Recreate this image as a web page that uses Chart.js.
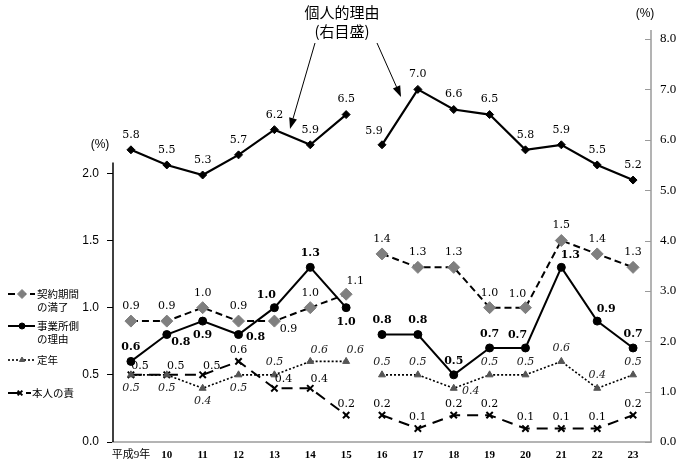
<!DOCTYPE html>
<html><head><meta charset="utf-8">
<script src="https://cdn.jsdelivr.net/npm/chart.js@4/dist/chart.umd.min.js"></script>
<style>html,body{margin:0;padding:0;background:#fff;}#wrap{width:680px;height:460px;position:relative;}</style>
</head><body><div id="wrap"><canvas id="c" width="680" height="460"></canvas></div>
<script>
// ---- data ----
const categories = ['平成9年','10','11','12','13','14','15','16','17','18','19','20','21','22','23'];
const personalReason = [5.8,5.5,5.3,5.7,6.2,5.9,6.5,5.9,7.0,6.6,6.5,5.8,5.9,5.5,5.2];
const contractExpiry = [0.9,0.9,1.0,0.9,0.9,1.0,1.1,1.4,1.3,1.3,1.0,1.0,1.5,1.4,1.3];
const employerReason = [0.6,0.8,0.9,0.8,1.0,1.3,1.0,0.8,0.8,0.5,0.7,0.7,1.3,0.9,0.7];
const retirementAge  = [0.5,0.5,0.4,0.5,0.5,0.6,0.6,0.5,0.5,0.4,0.5,0.5,0.6,0.4,0.5];
const ownFault       = [0.5,0.5,0.5,0.6,0.4,0.4,0.2,0.2,0.1,0.2,0.2,0.1,0.1,0.1,0.2];
const leftTicks  = [0,0.5,1.0,1.5,2.0];
const rightTicks = [0,1,2,3,4,5,6,7,8];
const seriesNames = ['個人的理由','契約期間の満了','事業所側の理由','定年','本人の責'];
const breakAfter = categories.indexOf('15');

// ---- label placement codes (style, not data) ----
const personalPos = ['a','a','a','a','a','a','a','al','a','a','a','a','a','a','a'];
const contractPos = ['a','a','a','a','br','a','ar','a','a','a','a','al','a','a','a'];
const employerPos = ['a','br','b','r','al','a','b','a','a','a','a','al','ar','ar','a'];
const retirePos   = ['b','b','b','b','a','ar','ar','a','a','r','a','a','a','a','a'];
const faultPos    = ['ar','ar','ar','a','ar','ar','a','a','a','a','a','a','a','a','a'];

const SERIF = '"DejaVu Serif", serif';
const labelCfg = [
  {pos: personalPos, dist: 15, font: '11px ' + SERIF, color: '#000'},
  {pos: contractPos, dist: 15, font: '11px ' + SERIF, color: '#000'},
  {pos: employerPos, dist: 14, font: 'bold 11px ' + SERIF, color: '#000'},
  {pos: retirePos,   dist: 13, font: 'italic 11px ' + SERIF, color: '#222'},
  {pos: faultPos,    dist: 11, font: '11px ' + SERIF, color: '#000'}
];
function offsetFor(code, d) {
  switch (code) {
    case 'b':  return [0, d];
    case 'ar': return [9, -d + 2];
    case 'al': return [-8, -d + 1];
    case 'br': return [14, 8];
    case 'r':  return [17, 3];
    default:   return [0, -d];
  }
}

const gapSeg = { borderColor: ctx => ctx.p0DataIndex === breakAfter ? 'rgba(0,0,0,0)' : undefined };

function drawMarker(ctx, style, x, y, r, fill, stroke, lw) {
  ctx.save();
  ctx.fillStyle = fill; ctx.strokeStyle = stroke; ctx.lineWidth = lw || 1; ctx.setLineDash([]);
  ctx.beginPath();
  if (style === 'rectRot') {
    ctx.moveTo(x, y - r); ctx.lineTo(x + r, y); ctx.lineTo(x, y + r); ctx.lineTo(x - r, y); ctx.closePath();
    ctx.fill(); ctx.stroke();
  } else if (style === 'circle') {
    ctx.arc(x, y, r, 0, Math.PI * 2); ctx.fill(); ctx.stroke();
  } else if (style === 'triangle') {
    ctx.moveTo(x, y - r); ctx.lineTo(x + r * 0.87, y + r * 0.5); ctx.lineTo(x - r * 0.87, y + r * 0.5); ctx.closePath();
    ctx.fill(); ctx.stroke();
  } else if (style === 'crossRot') {
    const k = r * 0.7;
    ctx.moveTo(x - k, y - k); ctx.lineTo(x + k, y + k); ctx.moveTo(x + k, y - k); ctx.lineTo(x - k, y + k);
    ctx.stroke();
  }
  ctx.restore();
}

const decor = {
  id: 'decor',
  afterDraw(chart) {
    const ctx = chart.ctx, ca = chart.chartArea;
    const y = chart.scales.y, y1 = chart.scales.y1;
    ctx.save();
    // left axis line (only up to a bit above 2.0)
    ctx.strokeStyle = '#000'; ctx.lineWidth = 1.5;
    ctx.beginPath(); ctx.moveTo(ca.left, y.getPixelForValue(0)); ctx.lineTo(ca.left, y.getPixelForValue(2.08)); ctx.stroke();
    // right axis line + inward ticks
    ctx.strokeStyle = '#9a9a9a'; ctx.lineWidth = 1.5;
    ctx.beginPath(); ctx.moveTo(ca.right, y1.getPixelForValue(0)); ctx.lineTo(ca.right, y1.getPixelForValue(8) - 9); ctx.stroke();
    ctx.lineWidth = 1;
    rightTicks.forEach(v => {
      const py = Math.round(y1.getPixelForValue(v)) + 0.5;
      ctx.beginPath(); ctx.moveTo(ca.right - 6, py); ctx.lineTo(ca.right, py); ctx.stroke();
    });
    // unit labels
    ctx.fillStyle = '#000'; ctx.textAlign = 'center'; ctx.textBaseline = 'middle';
    ctx.font = '12px "Liberation Sans", sans-serif';
    ctx.fillText('(%)', 100, 145);
    ctx.fillText('(%)', 645, 14);
    // title annotation
    ctx.font = '15px "Noto Sans CJK JP"';
    ctx.fillText(seriesNames[0], 342, 12);
    ctx.fillText('(右目盛)', 342, 31);
    // arrows
    const arrow = (x0, y0, x1, y1p) => {
      ctx.strokeStyle = '#000'; ctx.fillStyle = '#000'; ctx.lineWidth = 1;
      const ang = Math.atan2(y1p - y0, x1 - x0), L = 11, W = 4;
      const bx = x1 - L * Math.cos(ang), by = y1p - L * Math.sin(ang);
      ctx.beginPath(); ctx.moveTo(x0, y0); ctx.lineTo(bx, by); ctx.stroke();
      ctx.beginPath(); ctx.moveTo(x1, y1p);
      ctx.lineTo(bx + W * Math.sin(ang), by - W * Math.cos(ang));
      ctx.lineTo(bx - W * Math.sin(ang), by + W * Math.cos(ang));
      ctx.closePath(); ctx.fill();
    };
    arrow(315, 43, 290, 129);
    arrow(377, 43, 401, 97);
    // legend
    const ds = chart.data.datasets;
    const legendItems = [
      {i: 1, y: 294, lines: ['契約期間', 'の満了'], x0: 8, x1: 35, mx: 22, tx: 37},
      {i: 2, y: 326, lines: ['事業所側', 'の理由'], x0: 8, x1: 35, mx: 22, tx: 37},
      {i: 3, y: 360, lines: ['定年'], x0: 8, x1: 35, mx: 22, tx: 37},
      {i: 4, y: 393, lines: ['本人の責'], x0: 8, x1: 31, mx: 20, tx: 32}
    ];
    legendItems.forEach(it => {
      const d = ds[it.i];
      ctx.save();
      ctx.strokeStyle = d.borderColor; ctx.lineWidth = d.borderWidth;
      ctx.setLineDash(d.borderDash || []);
      ctx.beginPath(); ctx.moveTo(it.x0, it.y); ctx.lineTo(it.x1, it.y); ctx.stroke();
      ctx.restore();
      drawMarker(ctx, d.pointStyle, it.mx, it.y, d.pointRadius * 0.75, d.pointBackgroundColor, d.pointBorderColor, d.pointBorderWidth);
      ctx.fillStyle = '#000'; ctx.textAlign = 'left'; ctx.textBaseline = 'middle';
      ctx.font = '10.5px "Noto Sans CJK JP"';
      it.lines.forEach((t, k) => ctx.fillText(t, it.tx, it.y + k * 13));
    });
    ctx.restore();
  },
  afterDatasetsDraw(chart) {
    const ctx = chart.ctx;
    ctx.save();
    ctx.textAlign = 'center'; ctx.textBaseline = 'middle';
    chart.data.datasets.forEach((d, di) => {
      const cfg = labelCfg[di];
      const meta = chart.getDatasetMeta(di);
      ctx.font = cfg.font; ctx.fillStyle = cfg.color;
      meta.data.forEach((pt, j) => {
        const v = d.data[j];
        if (v == null) return;
        const [dx, dy] = offsetFor(cfg.pos[j], cfg.dist);
        ctx.fillText(v.toFixed(1), pt.x + dx, pt.y + dy);
      });
    });
    ctx.restore();
  }
};

new Chart(document.getElementById('c'), {
  type: 'line',
  data: {
    labels: categories,
    datasets: [
      {label: seriesNames[0], data: personalReason, yAxisID: 'y1', borderColor: '#000', borderWidth: 2.2,
       pointStyle: 'rectRot', pointRadius: 4, pointBackgroundColor: '#000', pointBorderColor: '#000', pointBorderWidth: 1, segment: gapSeg},
      {label: seriesNames[1], data: contractExpiry, yAxisID: 'y', borderColor: '#000', borderWidth: 2, borderDash: [7, 4],
       pointStyle: 'rectRot', pointRadius: 6, pointBackgroundColor: '#7f7f7f', pointBorderColor: '#7f7f7f', pointBorderWidth: 1, segment: gapSeg},
      {label: seriesNames[2], data: employerReason, yAxisID: 'y', borderColor: '#000', borderWidth: 2,
       pointStyle: 'circle', pointRadius: 4, pointBackgroundColor: '#000', pointBorderColor: '#000', pointBorderWidth: 1, segment: gapSeg},
      {label: seriesNames[3], data: retirementAge, yAxisID: 'y', borderColor: '#000', borderWidth: 1.6, borderDash: [2, 2],
       pointStyle: 'triangle', pointRadius: 4, pointBackgroundColor: '#555', pointBorderColor: '#555', pointBorderWidth: 1, segment: gapSeg},
      {label: seriesNames[4], data: ownFault, yAxisID: 'y', borderColor: '#000', borderWidth: 2, borderDash: [11, 7],
       pointStyle: 'crossRot', pointRadius: 4.5, pointBackgroundColor: '#000', pointBorderColor: '#000', pointBorderWidth: 2, segment: gapSeg}
    ]
  },
  options: {
    responsive: false, animation: false, devicePixelRatio: 1,
    layout: {padding: {top: 39, left: 0, right: 0, bottom: 0}},
    plugins: {legend: {display: false}, tooltip: {enabled: false}, title: {display: false}},
    elements: {line: {tension: 0, fill: false}},
    scales: {
      x: {
        offset: true,
        grid: {display: false, drawTicks: false},
        border: {display: true, color: '#b4b4b4', width: 2},
        ticks: {color: '#000', padding: 7, maxRotation: 0, autoSkip: false,
          font: ctx => ({family: '"Liberation Serif", "Noto Sans CJK JP"', size: 11, weight: ctx.index === 0 ? 'normal' : 'bold'})},
        afterFit: s => { s.height = 18; }
      },
      y: {
        position: 'left', min: 0, max: 3,
        afterBuildTicks: s => { s.ticks = leftTicks.map(v => ({value: v})); },
        grid: {drawOnChartArea: false, drawTicks: true, tickLength: 6, color: '#000', lineWidth: 1},
        border: {display: false},
        ticks: {color: '#000', padding: 8, font: {family: '"Liberation Sans"', size: 12}, callback: v => Number(v).toFixed(1)},
        afterFit: s => { s.width = 113; }
      },
      y1: {
        position: 'right', min: 0, max: 8,
        afterBuildTicks: s => { s.ticks = rightTicks.map(v => ({value: v})); },
        grid: {display: false, drawOnChartArea: false, drawTicks: false},
        border: {display: false},
        ticks: {color: '#000', padding: 9, font: {family: '"Liberation Serif"', size: 13}, callback: v => Number(v).toFixed(1)},
        afterFit: s => { s.width = 29; }
      }
    }
  },
  plugins: [decor]
});
</script>
</body></html>
